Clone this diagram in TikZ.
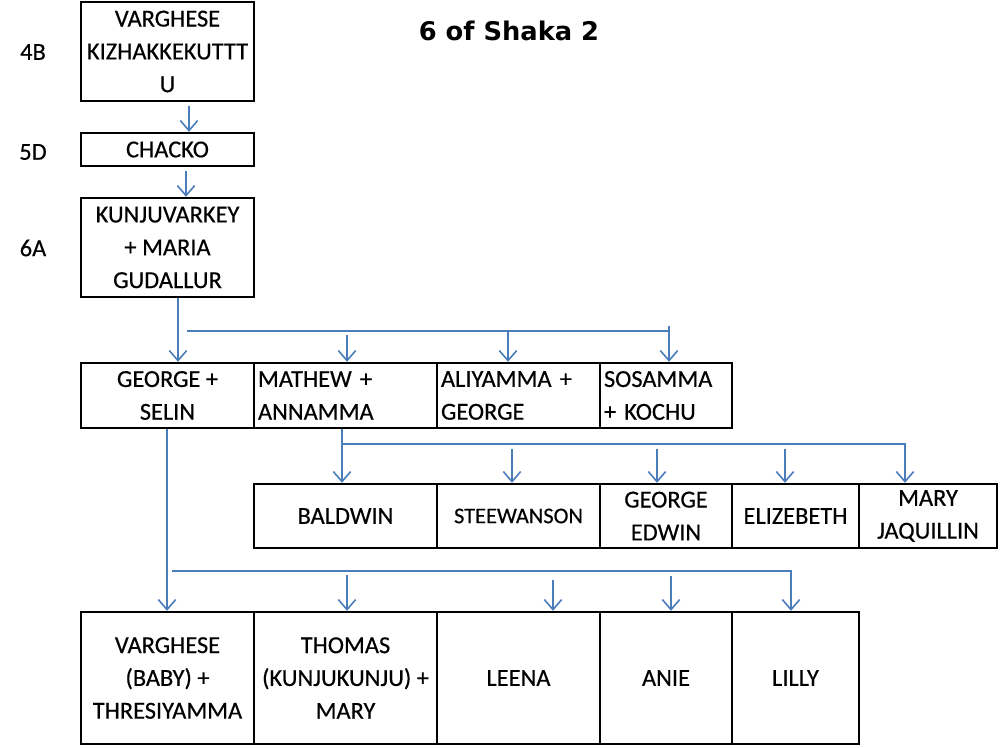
\documentclass[tikz,border=0pt]{standalone}
\usepackage{fontspec}
\setmainfont{Carlito}[RawFeature={embolden=0.4}]
\newfontfamily\titlefont{DejaVu Sans}
\usetikzlibrary{arrows.meta}
\definecolor{linkblue}{RGB}{74,126,187}
\newcommand{\bodyfont}{\fontsize{18.3}{24.6}\selectfont}
\newcommand{\smallbodyfont}{\fontsize{16.8}{24.6}\selectfont}
\tikzset{
  box/.style 2 args={draw, line width=1.8pt, minimum width=#1*0.75pt, minimum height=#2*0.75pt, inner sep=0pt, align=center, font=\bodyfont},
  lbox/.style 2 args={draw, line width=1.8pt, minimum width=#1*0.75pt, minimum height=#2*0.75pt, text width=#1*0.75pt-6pt, inner xsep=3pt, inner ysep=0pt, align=left, font=\bodyfont},
  gen/.style={font=\bodyfont},
  link/.style={draw=linkblue, line width=1.2pt},
  arr/.style={link, -{Straight Barb[length=7.5pt,width=13pt,line width=1.2pt]}},
}
\begin{document}
\begin{tikzpicture}[x=0.75pt,y=-0.75pt]
\useasboundingbox (0,0) rectangle (1000,747);
% title
\node[font=\titlefont\bfseries\fontsize{19.3}{22}\selectfont] (title) at (509,31) {6 of Shaka 2};
% generation labels
\node[gen] (g4b) at (33,52) {4B};
\node[gen] (g5d) at (33,152) {5D};
\node[gen] (g6a) at (33,248) {6A};
% ancestors
\node[box={173}{99}] (va) at (167.5,51.5) {VARGHESE\\KIZHAKKEKUTTT\\U};
\node[box={173}{33}] (ch) at (167.5,149.5) {CHACKO};
\node[box={173}{99}] (ku) at (167.5,247.5) {KUNJUVARKEY\\+ MARIA\\GUDALLUR};
% row 2
\node[box={173}{65}] (ge) at (167.5,395.5) {GEORGE +\\SELIN};
\node[lbox={183}{65}] (ma) at (345.5,395.5) {MATHEW +\\ANNAMMA};
\node[lbox={163}{65}] (al) at (518.5,395.5) {ALIYAMMA +\\GEORGE};
\node[lbox={132}{65}] (so) at (666,395.5) {SOSAMMA\\+ KOCHU};
% row 3
\node[box={183}{64}] (ba) at (345.5,516) {BALDWIN};
\node[box={163}{64},font=\smallbodyfont] (st) at (518.5,516) {STEEWANSON};
\node[box={132}{64}] (gd) at (666,516) {GEORGE\\EDWIN};
\node[box={127}{64}] (el) at (795.5,516) {ELIZEBETH};
\node[box={138}{64}] (mj) at (928,516) {MARY\\JAQUILLIN};
% row 4
\node[box={173}{132}] (vb) at (167.5,678) {VARGHESE\\(BABY) +\\THRESIYAMMA};
\node[box={183}{132}] (th) at (345.5,678) {THOMAS\\(KUNJUKUNJU) +\\MARY};
\node[box={163}{132}] (le) at (518.5,678) {LEENA};
\node[box={132}{132}] (an) at (666,678) {ANIE};
\node[box={127}{132}] (li) at (795.5,678) {LILLY};
% guide coordinates
\coordinate (x189) at (189,0);
\coordinate (x186) at (186,0);
\coordinate (x178) at (178,0);
\coordinate (b1l) at (187,331);
\coordinate (b1r) at (669,331);
\coordinate (m1) at (347,335);
\coordinate (a1) at (508,331);
\coordinate (s1) at (669,326);
\coordinate (x342) at (342,0);
\coordinate (b2l) at (342,444);
\coordinate (b2r) at (906,444);
\coordinate (st1) at (512,449);
\coordinate (gd1) at (657,449);
\coordinate (el1) at (785,449);
\coordinate (mj1) at (905,444);
\coordinate (x167) at (167,0);
\coordinate (b3l) at (172,571);
\coordinate (b3r) at (792,571);
\coordinate (th1) at (347,575);
\coordinate (le1) at (553,580);
\coordinate (an1) at (671,576);
\coordinate (li1) at (791,571);
% connectors
\draw[arr, shorten <=3pt] (x189 |- va.south) -- (x189 |- ch.north);
\draw[arr, shorten <=3pt] (x186 |- ch.south) -- (x186 |- ku.north);
\draw[arr] (x178 |- ku.south) -- (x178 |- ge.north);
\draw[link] (b1l) -- (b1r);
\draw[arr] (m1) -- (m1 |- ma.north);
\draw[arr] (a1) -- (a1 |- al.north);
\draw[arr] (s1) -- (s1 |- so.north);
\draw[arr] (x342 |- ma.south) -- (x342 |- ba.north);
\draw[link] (b2l) -- (b2r);
\draw[arr] (st1) -- (st1 |- st.north);
\draw[arr] (gd1) -- (gd1 |- gd.north);
\draw[arr] (el1) -- (el1 |- el.north);
\draw[arr] (mj1) -- (mj1 |- mj.north);
\draw[arr] (x167 |- ge.south) -- (x167 |- vb.north);
\draw[link] (b3l) -- (b3r);
\draw[arr] (th1) -- (th1 |- th.north);
\draw[arr] (le1) -- (le1 |- le.north);
\draw[arr] (an1) -- (an1 |- an.north);
\draw[arr] (li1) -- (li1 |- li.north);
\end{tikzpicture}
\end{document}
